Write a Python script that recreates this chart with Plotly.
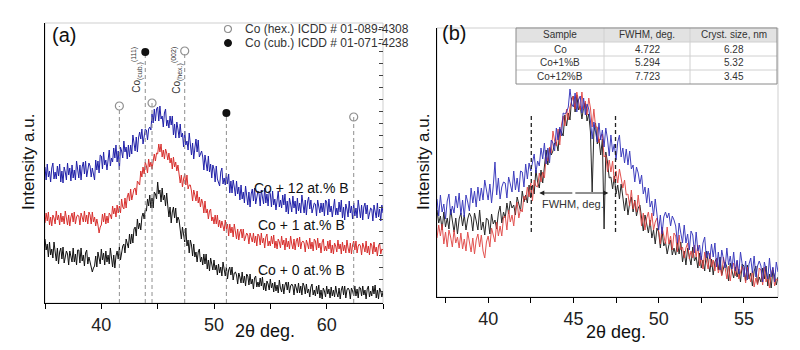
import plotly.graph_objects as go

# ---------------- Panel (a) data: 2theta from 35.0 step 0.1 ----------------
A_START, A_STEP = 35.0, 0.1
co12_a = [
 136,123,139,126,132,121,135,140,124,131,
 124,137,127,139,121,132,120,136,131,123,
 140,128,135,122,138,125,133,123,142,131,
 125,138,123,136,141,129,142,126,135,140,
 137,126,135,130,123,143,133,142,130,148,
 147,134,151,138,143,133,147,153,137,145,
 141,155,145,158,141,152,133,156,152,145,
 162,151,156,144,158,146,158,149,168,157,
 152,166,151,165,171,164,174,159,168,174,
 173,163,174,176,173,189,180,194,182,194,
 196,182,197,184,187,176,190,194,177,183,
 175,187,178,187,168,179,165,181,174,165,
 179,166,170,156,172,158,162,153,170,159,
 148,160,144,155,164,151,163,146,149,152,
 146,133,148,139,132,147,131,139,125,138,
 134,121,137,124,120,117,131,135,119,125,
 118,130,119,129,110,122,110,123,116,107,
 122,109,116,103,118,104,111,100,117,106,
 98,111,96,109,114,102,115,99,108,112,
 109,97,113,107,99,115,100,109,97,112,
 109,96,112,98,104,93,107,112,96,103,
 95,108,98,109,91,102,89,105,99,91,
 107,95,102,89,105,92,100,90,108,97,
 90,103,88,101,106,94,103,90,95,100,
 99,87,103,97,90,100,91,100,87,103,
 101,88,104,91,97,86,99,104,88,95,
 88,101,91,103,85,96,83,99,94,86,
 102,90,97,84,100,87,95,85,103,92,
 85,98,83,96,100,89,98,84,90,95,
 94,82,98,92,85,100,86,94,82,98,
 90]
co1_a = [
 80,90,82,91,78,86,77,88,85,79,
 92,83,88,78,90,81,87,79,92,84,
 78,88,77,86,90,81,91,79,86,88,
 87,78,90,86,81,92,81,88,79,91,
 88,79,91,81,86,77,84,78,70,76,
 78,89,81,90,79,87,80,90,88,84,
 97,89,95,86,98,90,97,90,104,96,
 94,105,95,106,110,102,114,103,111,114,
 115,108,122,120,118,132,126,136,129,141,
 137,130,144,136,141,134,144,149,142,150,
 149,159,151,159,146,153,144,154,150,143,
 150,140,145,134,146,136,141,132,138,130,
 120,128,116,124,129,118,128,114,118,118,
 112,102,113,108,102,112,100,106,96,104,
 100,90,102,90,94,84,92,94,82,86,
 79,88,79,88,76,83,75,82,78,72,
 83,74,79,67,79,70,76,66,79,71,
 64,74,63,71,74,65,74,62,67,70,
 68,59,70,65,61,70,60,67,57,69,
 67,58,70,60,65,55,66,69,57,62,
 57,67,59,68,55,62,54,64,61,55,
 67,58,63,53,65,56,62,54,67,59,
 54,64,53,62,65,56,66,54,61,62,
 60,51,63,59,54,65,54,61,52,64,
 62,53,65,55,60,50,61,64,52,57,
 52,62,54,63,50,58,49,60,57,51,
 63,54,59,49,61,52,58,50,63,55,
 50,60,49,58,62,53,62,50,57,59,
 57,48,60,56,51,62,50,57,48,60,
 58,49,61,51,56,47,57,60,49,54,
 53]
co0_a = [
 64,53,59,46,61,48,54,45,61,50,
 42,55,39,51,55,44,56,40,48,52,
 49,38,52,47,41,55,41,49,38,53,
 53,40,55,42,48,37,50,53,39,46,
 40,38,31,35,37,47,36,51,46,39,
 54,43,50,38,52,41,48,39,55,45,
 36,48,35,47,52,44,56,43,53,57,
 59,50,64,60,55,69,59,69,60,74,
 76,67,84,74,80,73,86,90,84,93,
 92,104,97,108,95,105,95,111,109,104,
 121,109,113,101,115,103,108,97,110,97,
 86,96,80,91,96,85,95,80,86,83,
 75,64,76,68,61,75,57,63,50,63,
 58,47,59,46,51,41,51,54,41,46,
 38,49,39,49,34,43,32,45,40,33,
 43,33,38,28,39,30,36,27,41,32,
 27,36,24,33,36,28,36,23,30,31,
 28,19,30,26,20,31,20,27,17,29,
 27,18,29,19,24,14,25,27,16,21,
 16,25,17,26,13,20,12,22,19,13,
 24,15,20,11,21,12,18,10,23,15,
 11,19,9,18,21,13,21,10,17,19,
 17,8,19,15,10,20,10,17,8,20,
 17,9,19,10,14,6,16,19,8,13,
 7,17,9,18,5,13,4,15,12,6,
 17,9,14,5,16,7,13,6,17,10,
 6,15,4,13,17,8,17,5,13,15,
 13,4,15,12,7,17,7,14,5,16,
 15,7,17,8,13,4,14,17,6,12,
 7,17,9,18,5,13,4,15,12,6,
 11]

# reference peak positions (2theta) and marker heights
hex_pos = [41.6, 44.5, 47.4, 62.4]
hex_h = [197, 200, 252, 186]
cub_pos = [43.9, 51.1]
cub_h = [251, 190]
legend_names = ["Co (hex.) ICDD # 01-089-4308", "Co (cub.) ICDD # 01-071-4238"]

curve_labels = ["Co + 12 at.% B", "Co + 1 at.% B", "Co + 0 at.% B"]
label_y = [115, 78, 33]

# ---------------- Panel (b) data: 2theta from 37.0 step 0.1 ----------------
B_START, B_STEP = 37.0, 0.1
co12_b = [
 98,81,102,85,93,78,96,103,82,91,
 84,101,89,104,82,97,80,102,95,86,
 109,94,106,90,110,96,109,97,117,105,
 97,113,94,111,135,102,119,98,110,115,
 114,99,120,113,105,126,107,119,105,126,
 125,110,133,118,134,126,134,143,124,136,
 131,149,138,154,133,149,134,157,154,146,
 169,157,170,161,184,183,185,190,208,193,
 190,204,185,197,201,184,199,182,193,188,
 176,158,175,166,155,174,157,167,150,169,
 158,141,162,145,153,137,155,162,140,149,
 134,148,132,146,128,132,115,130,124,113,
 122,103,110,94,109,90,96,81,98,83,
 67,82,63,80,85,79,84,71,81,77,
 71,54,74,64,54,72,54,63,47,66,
 62,44,65,46,52,37,54,60,39,46,
 38,53,40,54,30,45,27,47,39,29,
 49,32,41,28,45,26,37,23,45,30,
 20,36,17,33,39,24,41,20,31,36,
 31,15,35,27,18,39,20,30,15,35,
 25]
co1_b = [
 59,72,61,73,53,65,50,67,60,50,
 67,54,60,49,64,48,58,46,65,53,
 45,59,43,57,63,50,62,46,39,55,
 61,50,69,62,55,75,61,71,61,80,
 81,67,87,75,82,71,88,95,79,88,
 85,101,97,110,100,114,96,117,111,110,
 124,115,125,119,140,136,150,144,166,156,
 151,168,152,172,181,171,188,177,190,196,
 201,188,205,196,187,205,188,196,182,199,
 189,170,188,170,170,154,161,163,140,142,
 125,137,125,136,115,126,114,128,119,109,
 117,102,103,91,107,88,96,85,102,89,
 71,84,67,79,85,71,84,67,75,79,
 67,53,70,62,53,70,53,61,47,64,
 61,45,62,47,50,39,49,54,38,46,
 39,52,40,52,31,41,28,45,38,28,
 44,30,37,26,39,24,31,21,40,27,
 18,31,16,29,34,21,36,18,26,31,
 27,14,30,22,15,26,10,19,12,29,
 27,12,30,15,21,9,23,29,11,18,
 17]
co0_b = [
 87,74,81,67,85,70,79,68,88,76,
 65,79,63,78,84,71,82,67,78,84,
 80,66,84,76,67,87,67,75,62,79,
 77,63,83,73,77,68,84,91,74,85,
 79,94,83,96,89,92,82,100,94,86,
 106,95,102,94,112,99,112,103,127,115,
 109,127,114,132,147,132,149,142,146,154,
 155,146,168,165,161,182,171,184,177,199,
 201,185,202,187,191,178,190,194,176,183,
 165,105,165,174,153,158,142,158,68,145,
 135,119,120,108,121,103,112,98,113,100,
 86,99,82,94,100,85,97,81,89,92,
 81,66,82,73,64,77,59,67,53,69,
 65,49,66,51,55,43,52,57,42,49,
 42,55,43,55,35,46,32,49,41,32,
 50,36,40,29,44,29,37,26,46,35,
 25,38,22,35,39,27,40,22,30,35,
 30,16,34,26,19,30,20,28,15,33,
 31,16,32,18,24,11,26,31,13,20,
 15,29,18,31,11,23,9,27,21,12,
 20]

fwhm_left, fwhm_right, fwhm_level = 43.0, 47.05, 104
guide_lines_b = [42.53, 47.47]
guide_span_b = [65, 184]

table_header = ["Sample", "FWHM, deg.", "Cryst. size, nm"]
table_samples = ["Co", "Co+1%B", "Co+12%B"]
table_fwhm = ["4.722", "5.294", "7.723"]
table_size = ["6.28", "5.32", "3.45"]

BLUE = "#2020a8"
RED = "#d8302e"
BLACK = "#111111"
FONT = "Liberation Sans, Arial, sans-serif"
W, H = 800, 350

def xgrid(start, step, n):
    return [round(start + step * i, 3) for i in range(n)]

def px(x):
    return x / W

def py(y):
    return 1 - y / H

fig = go.Figure()

# Panel (a) curves
for vals, col in [(co0_a, BLACK), (co1_a, RED), (co12_a, BLUE)]:
    fig.add_trace(go.Scatter(x=xgrid(A_START, A_STEP, len(vals)), y=vals, mode="lines",
                             line=dict(color=col, width=1), showlegend=False,
                             xaxis="x", yaxis="y", hoverinfo="skip"))

# dashed reference lines
for p, h in zip(hex_pos + cub_pos, hex_h + cub_h):
    fig.add_trace(go.Scatter(x=[p, p], y=[0, h], mode="lines",
                             line=dict(color="#8f8f8f", width=1, dash="4px,3px"),
                             showlegend=False, xaxis="x", yaxis="y", hoverinfo="skip"))

fig.add_trace(go.Scatter(x=hex_pos, y=hex_h, mode="markers", showlegend=False,
                         marker=dict(symbol="circle-open", size=8, color="#8f8f8f", line=dict(width=1.2)),
                         xaxis="x", yaxis="y"))
fig.add_trace(go.Scatter(x=cub_pos, y=cub_h, mode="markers", showlegend=False,
                         marker=dict(symbol="circle", size=8, color="#111111"),
                         xaxis="x", yaxis="y"))

# Panel (b) curves
for vals, col in [(co0_b, BLACK), (co1_b, "#e0403e"), (co12_b, "#2a2ab8")]:
    fig.add_trace(go.Scatter(x=xgrid(B_START, B_STEP, len(vals)), y=vals, mode="lines",
                             line=dict(color=col, width=1), showlegend=False,
                             xaxis="x2", yaxis="y2", hoverinfo="skip", opacity=0.9))

for g in guide_lines_b:
    fig.add_trace(go.Scatter(x=[g, g], y=guide_span_b, mode="lines",
                             line=dict(color="#222222", width=1.3, dash="4px,3px"),
                             showlegend=False, xaxis="x2", yaxis="y2", hoverinfo="skip"))

# dummy trace to activate right-hand tick axis of panel (a)
fig.add_trace(go.Scatter(x=[35], y=[0], mode="markers", marker=dict(opacity=0), showlegend=False,
                         xaxis="x", yaxis="y3", hoverinfo="skip"))

axis_common = dict(showgrid=False, zeroline=False, showline=True, linecolor="black", linewidth=1,
                   ticks="outside", ticklen=5, tickcolor="black",
                   tickfont=dict(family=FONT, size=18, color="#222"))

a_ticks = [35, 40, 45, 50, 55, 60, 65]
b_ticks = [37.5, 40, 42.5, 45, 47.5, 50, 52.5, 55]

fig.update_layout(
    width=W, height=H, margin=dict(l=0, r=0, t=0, b=0),
    paper_bgcolor="white", plot_bgcolor="white",
    font=dict(family=FONT), showlegend=False,
    xaxis=dict(domain=[45/W, 383/W], range=[35, 65], anchor="y",
               tickvals=a_ticks, ticktext=["" if t % 10 else str(t) for t in a_ticks], **axis_common),
    yaxis=dict(domain=[py(303), py(23)], range=[0, 280], anchor="x",
               showticklabels=False, showgrid=False, zeroline=False, showline=True,
               linecolor="black", linewidth=1, ticks=""),
    yaxis3=dict(overlaying="y", side="right", range=[0, 280], anchor="x", showticklabels=False,
                showgrid=False, zeroline=False, showline=False, ticks="inside", ticklen=4,
                tickcolor="#444", dtick=12),
    xaxis2=dict(domain=[437/W, 778/W], range=[37, 57], anchor="y2",
                tickvals=b_ticks, ticktext=["" if t % 5 else str(int(t)) for t in b_ticks], **axis_common),
    yaxis2=dict(domain=[py(297), py(28)], range=[0, 269], anchor="x2",
                showticklabels=False, showgrid=False, zeroline=False, showline=True,
                linecolor="black", linewidth=1, ticks=""),
)

# light frames
for xr, yr in [("x domain", "y domain"), ("x2 domain", "y2 domain")]:
    fig.add_shape(type="rect", xref=xr, yref=yr, x0=0, x1=1, y0=0, y1=1,
                  line=dict(color="#cfcfcf", width=1), layer="below")

# ---- table drawn with shapes + text ----
tx0, tx1 = 516, 777
col_edges = [516, 604, 690, 777]
row_edges = [28, 42, 56, 70, 84]
fig.add_shape(type="rect", xref="paper", yref="paper", x0=px(tx0), x1=px(tx1),
              y0=py(row_edges[1]), y1=py(row_edges[0]), fillcolor="#e2e2e2",
              line=dict(width=0))
fig.add_shape(type="rect", xref="paper", yref="paper", x0=px(tx0), x1=px(tx1),
              y0=py(row_edges[1]), y1=py(row_edges[-1]), fillcolor="white",
              line=dict(width=0))
for r in row_edges[1:-1]:
    fig.add_shape(type="line", xref="paper", yref="paper", x0=px(tx0), x1=px(tx1),
                  y0=py(r), y1=py(r), line=dict(color="#d0d0d0", width=1))
for c in col_edges[1:-1]:
    fig.add_shape(type="line", xref="paper", yref="paper", x0=px(c), x1=px(c),
                  y0=py(row_edges[0]), y1=py(row_edges[-1]), line=dict(color="#d0d0d0", width=1))
fig.add_shape(type="rect", xref="paper", yref="paper", x0=px(tx0), x1=px(tx1),
              y0=py(row_edges[-1]), y1=py(row_edges[0]), line=dict(color="#8a8a8a", width=1))

ann = []
cols = [table_header] + [list(r) for r in zip(table_samples, table_fwhm, table_size)]
for ri, row in enumerate(cols):
    yc = (row_edges[ri] + row_edges[ri + 1]) / 2
    for ci, t in enumerate(row):
        xc = (col_edges[ci] + col_edges[ci + 1]) / 2
        ann.append(dict(x=px(xc), y=py(yc), xref="paper", yref="paper", text=t, showarrow=False,
                        xanchor="center", yanchor="middle", font=dict(size=10, color="#333")))

# ---- legend of panel (a) ----
leg_y = [29, 43]
fig.add_shape(type="circle", xref="paper", yref="paper", x0=px(224.5), x1=px(231.5),
              y0=py(leg_y[0] + 3.5), y1=py(leg_y[0] - 3.5), line=dict(color="#8f8f8f", width=1.2))
fig.add_shape(type="circle", xref="paper", yref="paper", x0=px(224.5), x1=px(231.5),
              y0=py(leg_y[1] + 3.5), y1=py(leg_y[1] - 3.5), fillcolor="#111", line=dict(color="#111", width=1))
for t, yy in zip(legend_names, leg_y):
    ann.append(dict(x=px(243), y=py(yy), xref="paper", yref="paper", text=t, showarrow=False,
                    xanchor="left", yanchor="middle", font=dict(size=12, color="#333")))

ann.append(dict(x=px(50), y=py(35), xref="paper", yref="paper", text="(a)", showarrow=False,
                xanchor="left", yanchor="middle", font=dict(size=20, color="#111")))
ann.append(dict(x=px(440), y=py(33), xref="paper", yref="paper", text="(b)", showarrow=False,
                xanchor="left", yanchor="middle", font=dict(size=20, color="#111")))
for xp in [28, 423]:
    ann.append(dict(x=px(xp), y=py(162), xref="paper", yref="paper", text="Intensity a.u.",
                    textangle=-90, showarrow=False, xanchor="center", yanchor="middle",
                    font=dict(size=17, color="#111")))
ann.append(dict(x=px(265), y=py(331), xref="paper", yref="paper", text="2θ deg.", showarrow=False,
                xanchor="center", yanchor="middle", font=dict(size=18, color="#111")))
ann.append(dict(x=px(616), y=py(332), xref="paper", yref="paper", text="2θ deg.", showarrow=False,
                xanchor="center", yanchor="middle", font=dict(size=18, color="#111")))
for t, yv in zip(curve_labels, label_y):
    ann.append(dict(x=57.8, y=yv, xref="x", yref="y", text=t, showarrow=False,
                    xanchor="center", yanchor="middle", font=dict(size=14, color="#111")))
ann.append(dict(x=43.15, y=233, xref="x", yref="y", text="Co<sub>(cub.)</sub><sup>(111)</sup>",
                textangle=-90, showarrow=False, xanchor="center", yanchor="middle",
                font=dict(size=10, color="#333")))
ann.append(dict(x=46.7, y=233, xref="x", yref="y", text="Co<sub>(hex.)</sub><sup>(002)</sup>",
                textangle=-90, showarrow=False, xanchor="center", yanchor="middle",
                font=dict(size=10, color="#333")))
# FWHM arrows
mid = (fwhm_left + fwhm_right) / 2
for end in (fwhm_left, fwhm_right):
    ann.append(dict(x=end, y=fwhm_level, ax=mid, ay=fwhm_level,
                    xref="x2", yref="y2", axref="x2", ayref="y2", text="", showarrow=True,
                    arrowhead=2, arrowsize=1, arrowwidth=1, arrowcolor="#222"))
ann.append(dict(x=44.95, y=93, xref="x2", yref="y2", text="FWHM, deg.", showarrow=False,
                xanchor="center", yanchor="middle", font=dict(size=11, color="#333")))
fig.update_layout(annotations=ann)

fig.write_html("out.html")
